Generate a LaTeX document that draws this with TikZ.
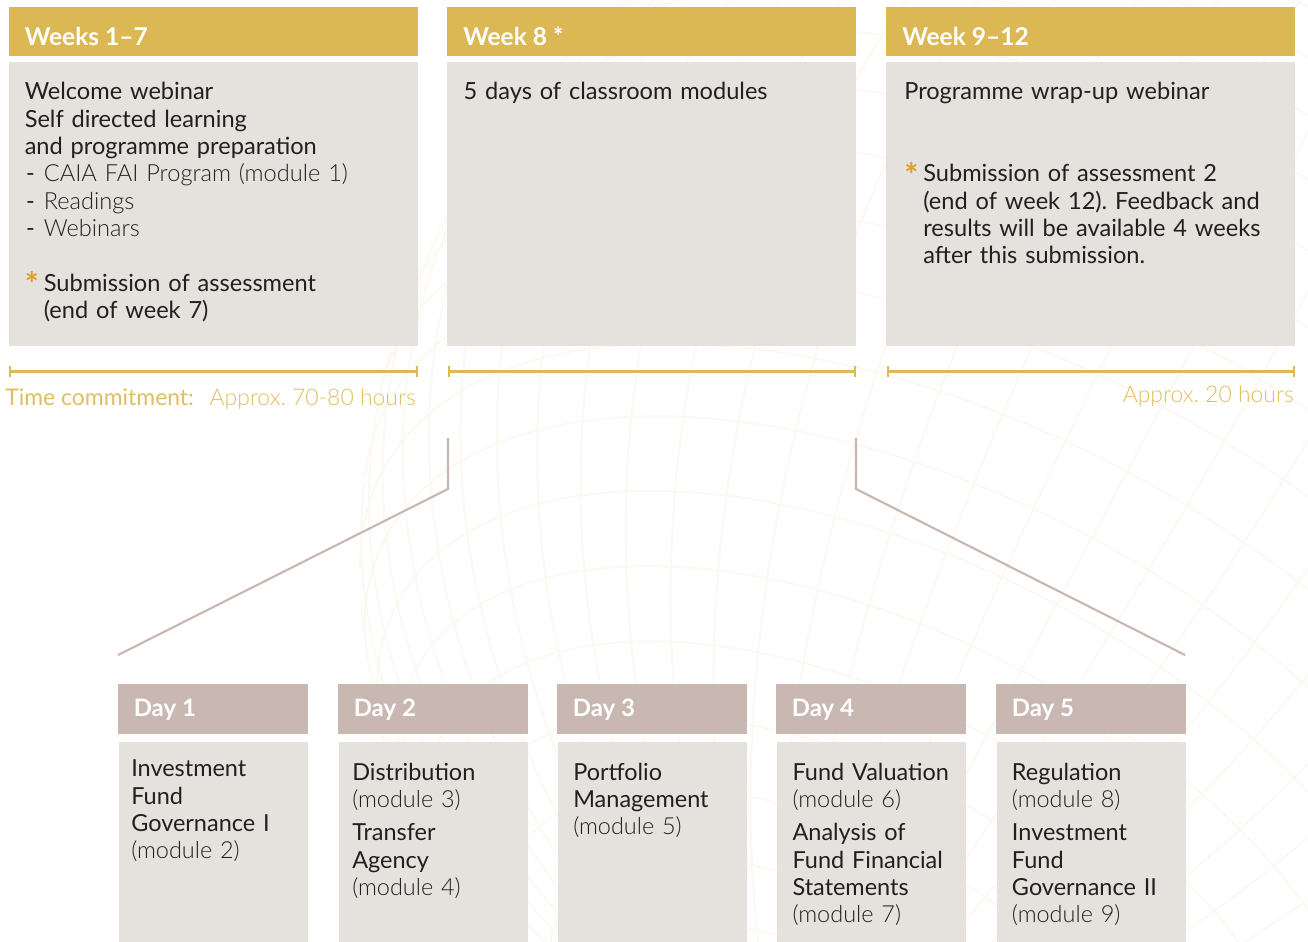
\documentclass[tikz,border=0pt]{standalone}
\usepackage{fontspec}
\setmainfont{Lato}
\newfontfamily\lightfont{Lato Light}
\usetikzlibrary{fit}
\frenchspacing
\definecolor{gold}{RGB}{219,184,83}
\definecolor{boxgrey}{RGB}{229,225,220}
\definecolor{rose}{RGB}{201,184,177}
\definecolor{linegold}{RGB}{221,185,82}
\definecolor{palegold}{RGB}{224,190,98}
\definecolor{staror}{RGB}{226,158,45}
\definecolor{ink}{RGB}{35,31,32}
\definecolor{globecol}{RGB}{251,249,241}
\newcommand{\dashitem}[1]{\makebox[14.3pt][l]{\hspace{1pt}-}{\lightfont #1}}
\newcommand{\staritem}[1]{\makebox[14.3pt][l]{\smash{\raisebox{-4pt}{\textcolor{staror}{\scalebox{1.4}{\bfseries *}}}}}#1}
\tikzset{
  hdrbox/.style={fill=gold, inner sep=0pt},
  bodybox/.style={fill=boxgrey, inner sep=0pt},
  dayhdrbox/.style={fill=rose, inner sep=0pt},
  hdrtext/.style={anchor=base west, inner sep=0pt, text=white, font=\fontsize{18.4}{22}\selectfont\bfseries},
  daytext/.style={anchor=base west, inner sep=0pt, text=white, font=\fontsize{18}{22}\selectfont\bfseries},
  btext/.style={anchor=base west, inner sep=0pt, text=ink, align=left, text width=400pt, font=\fontsize{17.7}{20.5}\selectfont},
  dtext/.style={anchor=base west, inner sep=0pt, text=ink, align=left, text width=300pt, font=\fontsize{17.6}{20.5}\selectfont},
  spanline/.style={draw=linegold, line width=2.2pt},
  spantick/.style={draw=linegold, line width=1.5pt},
  conn/.style={draw=rose, line width=1.6pt},
  tctext/.style={inner sep=0pt, text=palegold, font=\fontsize{17.2}{20}\selectfont},
  globeline/.style={draw=globecol, line width=1.5pt},
}
\begin{document}
\begin{tikzpicture}[x=0.75pt,y=-0.75pt]
\path[use as bounding box] (0,0) rectangle (1308,941);
\clip (0,0) rectangle (1308,941);
\fill[white] (0,0) rectangle (1308,941);

% faint globe in the background
\begin{scope}[shift={(1080,560)}, rotate=-28]
  \def\R{720}
  \def\tilt{32}
  \foreach \p in {-84,-78,...,84} {
    \pgfmathsetmacro\tt{-tan(\p)*tan(\tilt)}
    \pgfmathsetmacro\lm{acos(max(-1,min(1,\tt)))}
    \ifdim\lm pt>1pt
      \draw[globeline] plot[domain=-\lm:\lm, samples=60, smooth]
        ({\R*cos(\p)*sin(\x)}, {\R*(sin(\p)*cos(\tilt) - cos(\p)*cos(\x)*sin(\tilt))});
    \fi
  }
  \foreach \l in {0,6,...,354} {
    \pgfmathsetmacro\dd{atan2(cos(\l)*cos(\tilt), sin(\tilt))}
    \pgfmathsetmacro\lo{-\dd}
    \draw[globeline] plot[domain=\lo:90, samples=50, smooth]
      ({\R*cos(\x)*sin(\l)}, {\R*(sin(\x)*cos(\tilt) - cos(\x)*cos(\l)*sin(\tilt))});
  }
\end{scope}

% week columns
\node[hdrbox, fit={(9,7) (418,56)}] (h1) {};
\node[hdrbox, fit={(447,7) (856,56)}] (h2) {};
\node[hdrbox, fit={(886,7) (1295,56)}] (h3) {};
\node[bodybox, fit={(9,62) (418,346)}] (b1) {};
\node[bodybox, fit={(447,62) (856,346)}] (b2) {};
\node[bodybox, fit={(886,62) (1295,346)}] (b3) {};

\node[hdrtext] (h1t) at (24.5,45.7) {Weeks 1–7};
\node[hdrtext] (h2t) at (463,45.7) {Week 8 *};
\node[hdrtext] (h3t) at (902,45.7) {Week 9–12};

\node[btext] (b1t) at (24.5,100) {Welcome webinar\\
Self directed learning\\
and programme preparation\\
\dashitem{CAIA FAI Program (module 1)}\\
\dashitem{Readings}\\
\dashitem{Webinars}\\[20.5pt]
\staritem{Submission of assessment}\\
\hspace*{14.3pt}(end of week 7)};

\node[btext] (b2t) at (463.3,100) {5 days of classroom modules};

\node[btext] (b3t) at (904,100) {Programme wrap-up webinar};
\node[btext] (b3s) at (904,181.7) {\staritem{Submission of assessment 2}\\
\hspace*{14.3pt}(end of week 12). Feedback and\\
\hspace*{14.3pt}results will be available 4 weeks\\
\hspace*{14.3pt}after this submission.};

% time spans
\coordinate (s1a) at (10,371.7);  \coordinate (s1b) at (416.5,371.7);
\coordinate (s2a) at (449,371.7); \coordinate (s2b) at (855,371.7);
\coordinate (s3a) at (887.5,371.7); \coordinate (s3b) at (1294,371.7);
\foreach \a/\b in {s1a/s1b, s2a/s2b, s3a/s3b} {
  \draw[spanline] (\a) -- (\b);
  \draw[spantick] ([yshift=5.6*0.75pt]\a) -- ([yshift=-5.6*0.75pt]\a);
  \draw[spantick] ([yshift=5.6*0.75pt]\b) -- ([yshift=-5.6*0.75pt]\b);
}
\node[tctext, anchor=base west] (tc1) at (5,405.7) {Time commitment:};
\node[tctext, anchor=base east] (tc2) at (416,405.7) {\lightfont Approx. 70-80 hours};
\node[tctext, anchor=base east] (tc3) at (1294,402.7) {\lightfont Approx. 20 hours};

% connectors to the days
\coordinate (lt) at (448,438); \coordinate (lk) at (448,489); \coordinate (le) at (118,655);
\coordinate (rt) at (856,438); \coordinate (rk) at (856,489); \coordinate (re) at (1185,655);
\draw[conn] (lt) -- (lk) -- (le);
\draw[conn] (rt) -- (rk) -- (re);

% days
\foreach \i/\x in {1/118, 2/338, 3/557, 4/776, 5/996} {
  \node[dayhdrbox, fit={(\x,684) (\x+190,733.5)}] (dh\i) {};
  \node[bodybox, fit={(\x+1,742) (\x+190,945)}] (db\i) {};
  \node[daytext] (dht\i) at (\x+15.5,716.7) {Day \i};
}
\node[dtext] (d1) at (131,776.7) {Investment\\Fund\\Governance I\\{\lightfont (module 2)}};
\node[dtext] (d2) at (352,780) {Distribution\\{\lightfont (module 3)}\\[4.5pt]Transfer\\Agency\\{\lightfont (module 4)}};
\node[dtext] (d3) at (573,780) {Portfolio\\Management\\{\lightfont (module 5)}};
\node[dtext] (d4) at (792.3,780) {Fund Valuation\\{\lightfont (module 6)}\\[4.5pt]Analysis of\\Fund Financial\\Statements\\{\lightfont (module 7)}};
\node[dtext] (d5) at (1011.7,780) {Regulation\\{\lightfont (module 8)}\\[4.5pt]Investment\\Fund\\Governance II\\{\lightfont (module 9)}};
\end{tikzpicture}
\end{document}
